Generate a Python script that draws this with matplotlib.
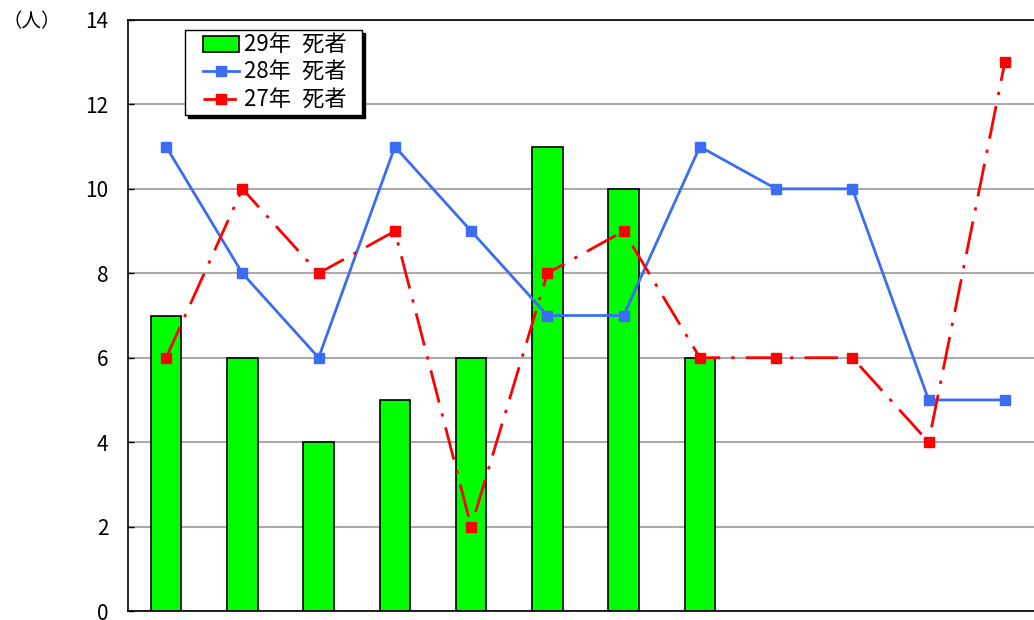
import matplotlib
matplotlib.use('Agg')
import matplotlib.pyplot as plt
from matplotlib.lines import Line2D
from matplotlib.patches import Patch
from matplotlib.legend_handler import HandlerLine2D, HandlerPatch
import numpy as np

plt.rcParams['font.family'] = ['Noto Sans CJK JP', 'DejaVu Sans']

# 月別 死者数
months = ['1月', '2月', '3月', '4月', '5月', '6月', '7月', '8月', '9月', '10月', '11月', '12月']
deaths_h29 = [7, 6, 4, 5, 6, 11, 10, 6]
deaths_h28 = [11, 8, 6, 11, 9, 7, 7, 11, 10, 10, 5, 5]
deaths_h27 = [6, 10, 8, 9, 2, 8, 9, 6, 6, 6, 4, 13]
yticks = [0, 2, 4, 6, 8, 10, 12, 14]

INDENT = 10  # 凡例マーカー左の余白(px)


# 凡例のマーカーを少し右へずらす
class ShiftedLine(HandlerLine2D):
    def adjust_drawing_area(self, legend, orig_handle, xdescent, ydescent,
                            width, height, fontsize):
        xd, yd, w, h = super().adjust_drawing_area(
            legend, orig_handle, xdescent, ydescent, width, height, fontsize)
        return xd - INDENT, yd, w - INDENT, h


class ShiftedPatch(HandlerPatch):
    def adjust_drawing_area(self, legend, orig_handle, xdescent, ydescent,
                            width, height, fontsize):
        xd, yd, w, h = super().adjust_drawing_area(
            legend, orig_handle, xdescent, ydescent, width, height, fontsize)
        return xd - INDENT, yd, w - INDENT, h


fig = plt.figure(figsize=(10.34, 6.2), dpi=100)
ax = fig.add_axes([128 / 1034, 9 / 620, 915 / 1034, 591 / 620])

x = np.arange(len(months))
ax.bar(x[:len(deaths_h29)], deaths_h29, width=0.4, color='#00ff00',
       edgecolor='black', linewidth=1.2, zorder=2)
ax.plot(x, deaths_h28, color='#3a6cf4', linewidth=2, marker='s',
        markersize=7, zorder=3)
ax.plot(x, deaths_h27, color='#ff0000', linewidth=2, marker='s',
        markersize=7.5, linestyle=(0, (12, 4, 1.2, 4)), zorder=4)

ax.set_xlim(-0.5, 11.5)
ax.set_ylim(0, 14)
ax.set_yticks(yticks)
ax.set_xticks(x)
ax.set_xticklabels([])  # 月ラベルは描画範囲外
ax.yaxis.grid(True, color='#aaaaaa', linewidth=1.5, zorder=0)
ax.set_axisbelow(True)
ax.tick_params(axis='y', direction='in', length=4, width=1, pad=14,
               labelsize=15)
ax.tick_params(axis='x', length=0)
for s in ax.spines.values():
    s.set_color('black')
    s.set_linewidth(1.2)

fig.text(2 / 1034, 1 - 22 / 620, '（人）', fontsize=14, va='center', ha='left')

handles = [
    Patch(facecolor='#00ff00', edgecolor='black', linewidth=1.2),
    Line2D([], [], color='#3a6cf4', linewidth=2, marker='s', markersize=7),
    Line2D([], [], color='#ff0000', linewidth=2, marker='s', markersize=7.5,
           linestyle=(0, (12, 4, 1.2, 4))),
]
labels = ['29年\u2002死者\u2002', '28年\u2002死者\u2002', '27年\u2002死者\u2002']
leg = ax.legend(handles, labels, loc='upper left',
                bbox_to_anchor=((185 - 128) / 915, (611 - 30) / 591),
                borderaxespad=0, fancybox=False, framealpha=1,
                edgecolor='black', fontsize=16, handlelength=50 / 22.2,
                handletextpad=0.25, labelspacing=0.2, borderpad=0.17,
                handler_map={Line2D: ShiftedLine(), Patch: ShiftedPatch()},
                shadow={'color': 'black', 'alpha': 1})
leg.get_frame().set_linewidth(1)

fig.savefig('out.png', dpi=100)
